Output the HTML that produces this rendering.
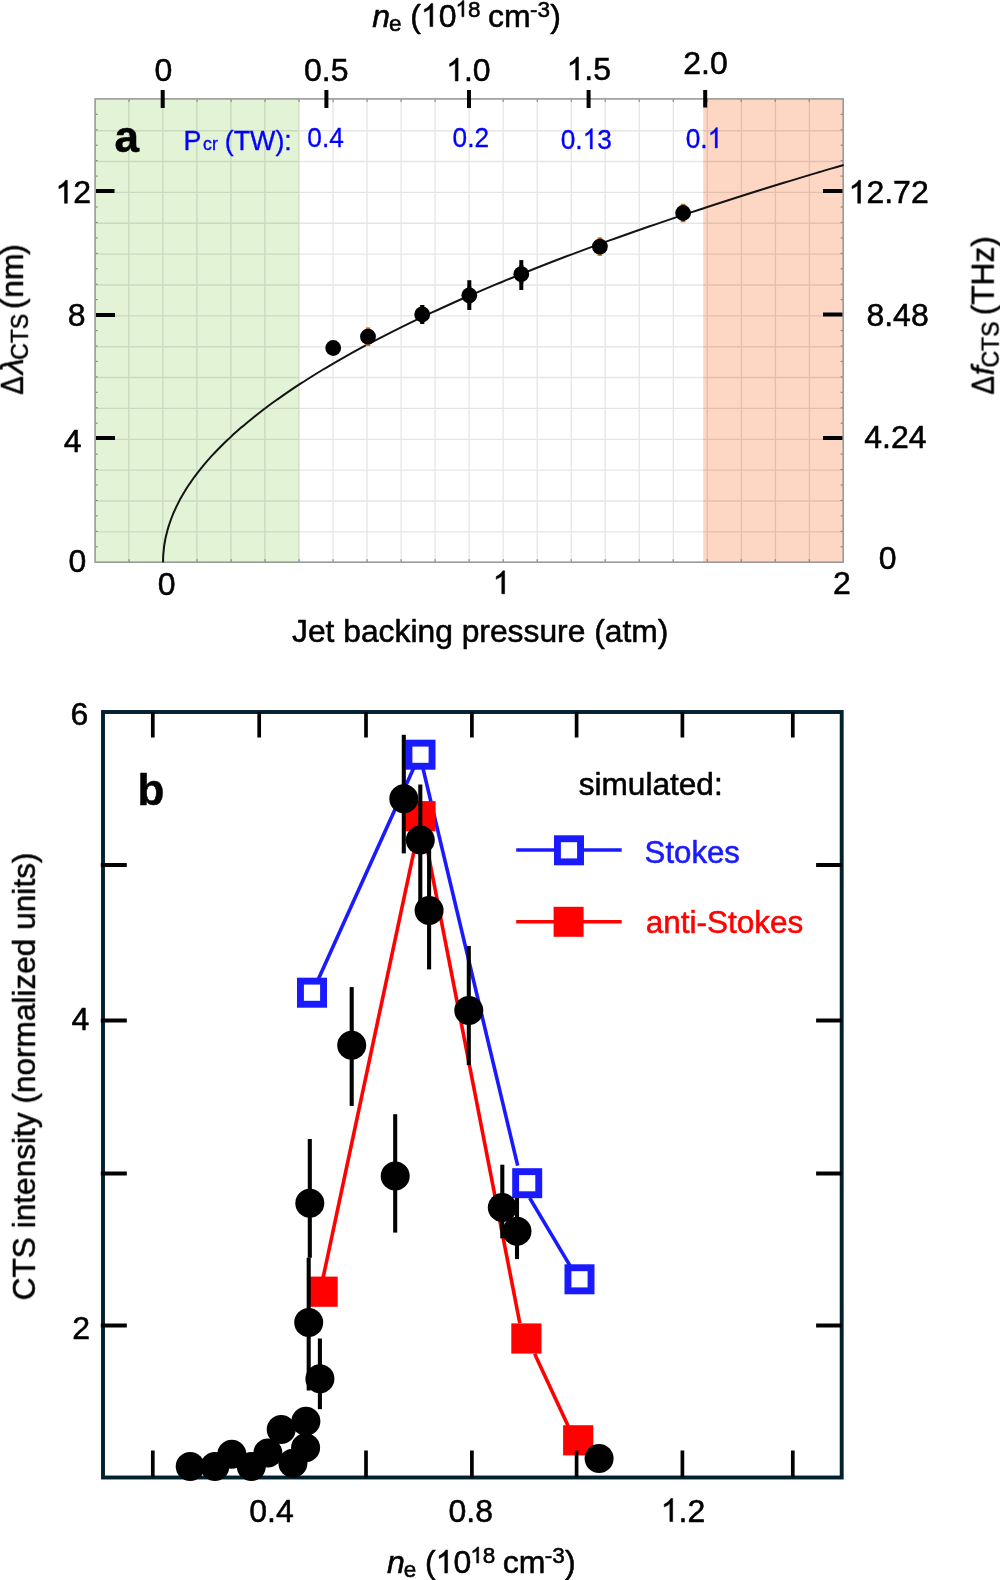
<!DOCTYPE html><html><head><meta charset="utf-8"><title>CTS figure</title>
<style>html,body{margin:0;padding:0;background:#fff}svg{display:block}text{font-family:"Liberation Sans",sans-serif;fill:#000;stroke:#000;stroke-width:.55px;stroke-linejoin:round}</style></head><body>
<svg width="1000" height="1580" viewBox="0 0 1000 1580">
<rect width="1000" height="1580" fill="#fff"/>
<g opacity="0.999">
<rect x="95.1" y="98.9" width="204.2" height="463.3" fill="#e3f3d6"/>
<rect x="703.2" y="98.9" width="140.0" height="463.3" fill="#fed6c4"/>
<path d="M128.8 98.9V562.2M162.8 98.9V562.2M196.9 98.9V562.2M230.9 98.9V562.2M264.9 98.9V562.2M299.0 98.9V562.2M333.0 98.9V562.2M367.0 98.9V562.2M401.1 98.9V562.2M435.1 98.9V562.2M469.1 98.9V562.2M503.1 98.9V562.2M537.2 98.9V562.2M571.2 98.9V562.2M605.2 98.9V562.2M639.3 98.9V562.2M673.3 98.9V562.2M707.3 98.9V562.2M741.4 98.9V562.2M775.4 98.9V562.2M809.4 98.9V562.2M95.1 531.8H843.2M95.1 501.0H843.2M95.1 470.1H843.2M95.1 439.3H843.2M95.1 408.4H843.2M95.1 377.5H843.2M95.1 346.7H843.2M95.1 315.8H843.2M95.1 285.0H843.2M95.1 254.1H843.2M95.1 223.2H843.2M95.1 192.4H843.2M95.1 161.5H843.2M95.1 130.7H843.2" stroke="#000" stroke-opacity="0.105" stroke-width="1.35" fill="none"/>
<path d="M95.1 546.8h2.6M843.2 546.8h-2.6M95.1 531.3h2.6M843.2 531.3h-2.6M95.1 515.9h2.6M843.2 515.9h-2.6M95.1 500.4h2.6M843.2 500.4h-2.6M95.1 485.0h2.6M843.2 485.0h-2.6M95.1 469.5h2.6M843.2 469.5h-2.6M95.1 454.1h2.6M843.2 454.1h-2.6M95.1 438.7h2.6M843.2 438.7h-2.6M95.1 423.2h2.6M843.2 423.2h-2.6M95.1 407.8h2.6M843.2 407.8h-2.6M95.1 392.3h2.6M843.2 392.3h-2.6M95.1 376.9h2.6M843.2 376.9h-2.6M95.1 361.4h2.6M843.2 361.4h-2.6M95.1 346.0h2.6M843.2 346.0h-2.6M95.1 330.6h2.6M843.2 330.6h-2.6M95.1 315.1h2.6M843.2 315.1h-2.6M95.1 299.7h2.6M843.2 299.7h-2.6M95.1 284.2h2.6M843.2 284.2h-2.6M95.1 268.8h2.6M843.2 268.8h-2.6M95.1 253.3h2.6M843.2 253.3h-2.6M95.1 237.9h2.6M843.2 237.9h-2.6M95.1 222.4h2.6M843.2 222.4h-2.6M95.1 207.0h2.6M843.2 207.0h-2.6M95.1 191.6h2.6M843.2 191.6h-2.6M95.1 176.1h2.6M843.2 176.1h-2.6M95.1 160.7h2.6M843.2 160.7h-2.6M95.1 145.2h2.6M843.2 145.2h-2.6M95.1 129.8h2.6M843.2 129.8h-2.6M95.1 114.3h2.6M843.2 114.3h-2.6M129.1 562.2v-3M129.1 98.9v3M163.1 562.2v-3M163.1 98.9v3M197.1 562.2v-3M197.1 98.9v3M231.1 562.2v-3M231.1 98.9v3M265.1 562.2v-3M265.1 98.9v3M299.1 562.2v-3M299.1 98.9v3M333.1 562.2v-3M333.1 98.9v3M367.1 562.2v-3M367.1 98.9v3M401.1 562.2v-3M401.1 98.9v3M435.1 562.2v-3M435.1 98.9v3M469.1 562.2v-3M469.1 98.9v3M503.2 562.2v-3M503.2 98.9v3M537.2 562.2v-3M537.2 98.9v3M571.2 562.2v-3M571.2 98.9v3M605.2 562.2v-3M605.2 98.9v3M639.2 562.2v-3M639.2 98.9v3M673.2 562.2v-3M673.2 98.9v3M707.2 562.2v-3M707.2 98.9v3M741.2 562.2v-3M741.2 98.9v3M775.2 562.2v-3M775.2 98.9v3M809.2 562.2v-3M809.2 98.9v3" stroke="#777" stroke-width="1" fill="none"/>
<rect x="95.1" y="98.9" width="748.1" height="463.3" fill="none" stroke="#9a9a9a" stroke-width="1.6"/>
<polyline points="163.0,562.2 163.1,560.2 163.1,558.2 163.2,556.2 163.3,554.3 163.5,552.3 163.7,550.3 163.9,548.3 164.1,546.3 164.4,544.3 164.8,542.3 165.1,540.4 165.5,538.4 165.9,536.4 166.4,534.4 166.9,532.4 167.4,530.4 168.0,528.4 168.6,526.4 169.2,524.5 169.9,522.5 170.6,520.5 171.3,518.5 172.1,516.5 172.9,514.5 173.7,512.5 174.6,510.6 175.5,508.6 176.4,506.6 177.4,504.6 178.4,502.6 179.4,500.6 180.5,498.6 181.6,496.7 182.7,494.7 183.9,492.7 185.1,490.7 186.3,488.7 187.6,486.7 188.9,484.7 190.3,482.8 191.7,480.8 193.1,478.8 194.5,476.8 196.0,474.8 197.5,472.8 199.1,470.8 200.6,468.9 202.3,466.9 203.9,464.9 205.6,462.9 207.3,460.9 209.1,458.9 210.8,456.9 212.7,454.9 214.5,453.0 216.4,451.0 218.3,449.0 220.3,447.0 222.3,445.0 224.3,443.0 226.4,441.0 228.5,439.1 230.6,437.1 232.7,435.1 234.9,433.1 237.2,431.1 239.4,429.1 241.7,427.1 244.1,425.2 246.4,423.2 248.8,421.2 251.3,419.2 253.7,417.2 256.2,415.2 258.8,413.2 261.3,411.3 263.9,409.3 266.6,407.3 269.2,405.3 271.9,403.3 274.7,401.3 277.5,399.3 280.3,397.4 283.1,395.4 286.0,393.4 288.9,391.4 291.8,389.4 294.8,387.4 297.8,385.4 300.9,383.4 304.0,381.5 307.1,379.5 310.2,377.5 313.4,375.5 316.6,373.5 319.9,371.5 323.1,369.5 326.5,367.6 329.8,365.6 333.2,363.6 336.6,361.6 340.1,359.6 343.6,357.6 347.1,355.6 350.6,353.7 354.2,351.7 357.9,349.7 361.5,347.7 365.2,345.7 368.9,343.7 372.7,341.7 376.5,339.8 380.3,337.8 384.2,335.8 388.1,333.8 392.0,331.8 396.0,329.8 400.0,327.8 404.0,325.9 408.1,323.9 412.2,321.9 416.3,319.9 420.5,317.9 424.7,315.9 428.9,313.9 433.2,311.9 437.5,310.0 441.8,308.0 446.2,306.0 450.6,304.0 455.0,302.0 459.5,300.0 464.0,298.0 468.6,296.1 473.1,294.1 477.8,292.1 482.4,290.1 487.1,288.1 491.8,286.1 496.5,284.1 501.3,282.2 506.1,280.2 511.0,278.2 515.9,276.2 520.8,274.2 525.7,272.2 530.7,270.2 535.7,268.3 540.8,266.3 545.9,264.3 551.0,262.3 556.2,260.3 561.4,258.3 566.6,256.3 571.8,254.4 577.1,252.4 582.5,250.4 587.8,248.4 593.2,246.4 598.6,244.4 604.1,242.4 609.6,240.4 615.1,238.5 620.7,236.5 626.3,234.5 631.9,232.5 637.6,230.5 643.3,228.5 649.0,226.5 654.8,224.6 660.6,222.6 666.4,220.6 672.3,218.6 678.2,216.6 684.1,214.6 690.1,212.6 696.1,210.7 702.2,208.7 708.2,206.7 714.3,204.7 720.5,202.7 726.7,200.7 732.9,198.7 739.1,196.8 745.4,194.8 751.7,192.8 758.0,190.8 764.4,188.8 770.8,186.8 777.3,184.8 783.8,182.8 790.3,180.9 796.8,178.9 803.4,176.9 810.0,174.9 816.7,172.9 823.4,170.9 830.1,168.9 836.9,167.0 843.7,165.0" fill="none" stroke="#141414" stroke-width="2"/>
<path d="M96 191H114.5M96 314.9H115M96 437.9H115M823 191H842.4M823 314.4H842.4M823 437.9H842.4" stroke="#000" stroke-width="4" fill="none"/>
<path d="M162.7 90V108M326.4 90V108M469 90V108M588.6 90V108M705.2 90V107.5" stroke="#000" stroke-width="4" fill="none"/>
<line x1="368" y1="327.4" x2="368" y2="346.0" stroke="#b8741f" stroke-width="4.5"/>
<line x1="422.2" y1="305.09999999999997" x2="422.2" y2="323.7" stroke="#b8741f" stroke-width="4.5"/>
<line x1="469.3" y1="286.0" x2="469.3" y2="304.6" stroke="#b8741f" stroke-width="4.5"/>
<line x1="521.3" y1="264.9" x2="521.3" y2="283.5" stroke="#b8741f" stroke-width="4.5"/>
<line x1="599.9" y1="237.29999999999998" x2="599.9" y2="255.9" stroke="#b8741f" stroke-width="4.5"/>
<line x1="683.1" y1="203.7" x2="683.1" y2="222.3" stroke="#b8741f" stroke-width="4.5"/>
<circle cx="333.2" cy="348" r="7.9" fill="#000"/>
<circle cx="368" cy="336.7" r="7.9" fill="#000"/>
<line x1="422.2" y1="305" x2="422.2" y2="324" stroke="#000" stroke-width="4"/>
<circle cx="422.2" cy="314.4" r="7.9" fill="#000"/>
<line x1="469.3" y1="280.2" x2="469.3" y2="310" stroke="#000" stroke-width="4"/>
<circle cx="469.3" cy="295.3" r="7.9" fill="#000"/>
<line x1="521.3" y1="260.1" x2="521.3" y2="290" stroke="#000" stroke-width="4"/>
<circle cx="521.3" cy="274.2" r="7.9" fill="#000"/>
<circle cx="599.9" cy="246.6" r="7.9" fill="#000"/>
<circle cx="683.1" cy="213" r="7.9" fill="#000"/>
<text y="26.6" font-size="32"><tspan x="372.3" font-style="italic">n</tspan><tspan x="389.0" font-size="22.5" dy="4">e</tspan><tspan dy="-4" x="410.2">(</tspan><tspan x="438.65">0</tspan><tspan x="468.01" font-size="22.5" dy="-9.9">8</tspan><tspan dy="9.9" x="487.9">cm</tspan><tspan x="530.0" font-size="22.5" dy="-9.9">-3</tspan><tspan dy="9.9" x="550.2">)</tspan></text>
<path transform="translate(420.86,26.60) scale(0.01562,-0.01562)" d="M763 0h-180v1147q-65 -62 -170.5 -124t-189.5 -93v174q151 71 264 172t160 196h116v-1472z" fill="#000" stroke="#000" stroke-width="35"/>
<path transform="translate(455.50,16.70) scale(0.01099,-0.01099)" d="M763 0h-180v1147q-65 -62 -170.5 -124t-189.5 -93v174q151 71 264 172t160 196h116v-1472z" fill="#000" stroke="#000" stroke-width="50"/>
<text x="163.3" y="80.5" font-size="32" text-anchor="middle" style="fill:#000;stroke:#000" >0</text>
<text x="326.3" y="80.5" font-size="32" text-anchor="middle" style="fill:#000;stroke:#000" >0.5</text>
<text x="463.95 472.85" y="81" font-size="32" style="fill:#000;stroke:#000" >.0</text>
<path transform="translate(446.16,81.00) scale(0.01562,-0.01562)" d="M763 0h-180v1147q-65 -62 -170.5 -124t-189.5 -93v174q151 71 264 172t160 196h116v-1472z" fill="#000" stroke="#000" stroke-width="35"/>
<text x="584.35 593.25" y="80" font-size="32" style="fill:#000;stroke:#000" >.5</text>
<path transform="translate(566.56,80.00) scale(0.01562,-0.01562)" d="M763 0h-180v1147q-65 -62 -170.5 -124t-189.5 -93v174q151 71 264 172t160 196h116v-1472z" fill="#000" stroke="#000" stroke-width="35"/>
<text x="705.5" y="73.5" font-size="32" text-anchor="middle" style="fill:#000;stroke:#000" >2.0</text>
<text x="73.20" y="203.3" font-size="32" style="fill:#000;stroke:#000" >2</text>
<path transform="translate(55.41,203.30) scale(0.01562,-0.01562)" d="M763 0h-180v1147q-65 -62 -170.5 -124t-189.5 -93v174q151 71 264 172t160 196h116v-1472z" fill="#000" stroke="#000" stroke-width="35"/>
<text x="85.5" y="326.2" font-size="32" text-anchor="end" style="fill:#000;stroke:#000" >8</text>
<text x="81.5" y="452.2" font-size="32" text-anchor="end" style="fill:#000;stroke:#000" >4</text>
<text x="86.2" y="572.2" font-size="32" text-anchor="end" style="fill:#000;stroke:#000" >0</text>
<text x="866.42 884.22 893.11 910.90" y="203.2" font-size="32" style="fill:#000;stroke:#000" >2.72</text>
<path transform="translate(848.62,203.20) scale(0.01562,-0.01562)" d="M763 0h-180v1147q-65 -62 -170.5 -124t-189.5 -93v174q151 71 264 172t160 196h116v-1472z" fill="#000" stroke="#000" stroke-width="35"/>
<text x="928.7" y="325.6" font-size="32" text-anchor="end" style="fill:#000;stroke:#000" >8.48</text>
<text x="926.5" y="448" font-size="32" text-anchor="end" style="fill:#000;stroke:#000" >4.24</text>
<text x="896.5" y="568.7" font-size="32" text-anchor="end" style="fill:#000;stroke:#000" >0</text>
<text x="166.6" y="595" font-size="32" text-anchor="middle" style="fill:#000;stroke:#000" >0</text>
<path transform="translate(492.70,593.80) scale(0.01562,-0.01562)" d="M763 0h-180v1147q-65 -62 -170.5 -124t-189.5 -93v174q151 71 264 172t160 196h116v-1472z" fill="#000" stroke="#000" stroke-width="35"/>
<text x="842" y="593.8" font-size="32" text-anchor="middle" style="fill:#000;stroke:#000" >2</text>
<text x="480.2" y="641.8" font-size="31.8" text-anchor="middle" style="fill:#000;stroke:#000" >Jet backing pressure (atm)</text>
<text x="114.5" y="151.5" font-size="44" text-anchor="start" style="fill:#000;stroke:#000" font-weight="bold">a</text>
<g fill="#0000ff">
<text y="149.7" font-size="26.8" style="fill:#0000ff;stroke:#0000ff;stroke-width:.35px"><tspan x="183.5">P</tspan><tspan x="203" font-size="17.8">cr</tspan><tspan x="224.8">(TW):</tspan></text>
<g transform="translate(325.6,0) scale(0.925,1) translate(-325.6,0)">
<text x="325.6" y="147.5" font-size="28.4" text-anchor="middle" style="fill:#0000ff;stroke:#0000ff;stroke-width:0.35px" >0.4</text>
</g>
<g transform="translate(470.8,0) scale(0.925,1) translate(-470.8,0)">
<text x="470.8" y="147" font-size="28.4" text-anchor="middle" style="fill:#0000ff;stroke:#0000ff;stroke-width:0.35px" >0.2</text>
</g>
<g transform="translate(586.3,0) scale(0.925,1) translate(-586.3,0)">
<text x="558.66 574.46 598.14" y="149" font-size="28.4" style="fill:#0000ff;stroke:#0000ff;stroke-width:0.35px" >0.3</text>
<path transform="translate(582.35,149.00) scale(0.01387,-0.01387)" d="M763 0h-180v1147q-65 -62 -170.5 -124t-189.5 -93v174q151 71 264 172t160 196h116v-1472z" fill="#0000ff" stroke="#0000ff" stroke-width="25"/>
</g>
<g transform="translate(704,0) scale(0.925,1) translate(-704,0)">
<text x="684.26 700.05" y="148" font-size="28.4" style="fill:#0000ff;stroke:#0000ff;stroke-width:0.35px" >0.</text>
<path transform="translate(707.95,148.00) scale(0.01387,-0.01387)" d="M763 0h-180v1147q-65 -62 -170.5 -124t-189.5 -93v174q151 71 264 172t160 196h116v-1472z" fill="#0000ff" stroke="#0000ff" stroke-width="25"/>
</g>
</g>
<g transform="translate(22.9,394.6) rotate(-90)" font-size="32"><text transform="scale(0.86,1)" x="0" y="0">Δ</text><text x="20.5" y="0" font-style="italic">λ</text><text x="34.8" y="5" font-size="23">CTS</text><text x="85.4" y="0">(</text><text x="96.7" y="0">nm</text><text x="139.7" y="0">)</text></g>
<g transform="translate(993.7,394.5) rotate(-90)" font-size="32"><text transform="scale(0.86,1)" x="0" y="0">Δ</text><text x="19.2" y="0" font-style="italic">f</text><text x="27" y="5" font-size="23">CTS</text><text x="79.3" y="0" font-size="31.6">(THz)</text></g>
<line x1="312.2" y1="992.7" x2="419.7" y2="754.7" stroke="#1a1aff" stroke-width="3.6"/>
<line x1="419.7" y1="754.7" x2="517.7" y2="1165.6" stroke="#1a1aff" stroke-width="3.6"/>
<line x1="529.7" y1="1198" x2="574" y2="1272.4" stroke="#1a1aff" stroke-width="3.6"/>
<line x1="320.1" y1="1291.7" x2="421.5" y2="815.8" stroke="#ff0000" stroke-width="3.6"/>
<line x1="420.8" y1="815.8" x2="519.8" y2="1323.2" stroke="#ff0000" stroke-width="3.6"/>
<line x1="534.6" y1="1353.8" x2="572" y2="1434.2" stroke="#ff0000" stroke-width="3.6"/>
<rect x="307.5" y="1276.6" width="30.2" height="30.2" fill="#ff0000"/>
<rect x="405.4" y="801.1" width="30.2" height="30.2" fill="#ff0000"/>
<rect x="511.3" y="1323.4" width="30.2" height="30.2" fill="#ff0000"/>
<rect x="563.1" y="1425.2" width="30.2" height="30.2" fill="#ff0000"/>
<rect x="300.45" y="981.15" width="23.1" height="23.1" fill="#fff" stroke="#1a1aff" stroke-width="6.9"/>
<rect x="408.95" y="743.15" width="23.1" height="23.1" fill="#fff" stroke="#1a1aff" stroke-width="6.9"/>
<rect x="515.65" y="1171.65" width="23.1" height="23.1" fill="#fff" stroke="#1a1aff" stroke-width="6.9"/>
<rect x="567.95" y="1267.75" width="23.1" height="23.1" fill="#fff" stroke="#1a1aff" stroke-width="6.9"/>
<rect x="103" y="712" width="738.7" height="765.5" fill="none" stroke="#02202f" stroke-width="3.9"/>
<path d="M152.8 712V737.6M152.8 1477.5V1450.5M259.2 712V737.6M259.2 1477.5V1450.5M366 712V737.6M366 1477.5V1450.5M471.9 712V737.6M471.9 1477.5V1450.5M576.6 712V737.6M576.6 1477.5V1450.5M682.4 712V737.6M682.4 1477.5V1450.5M792.8 712V737.6M792.8 1477.5V1450.5" stroke="#000" stroke-width="3.7" fill="none"/>
<path d="M100.8 864.9H126.8M816.1 864.9H841.7M100.8 1020.6H126.8M816.1 1020.6H841.7M100.8 1173.5H126.8M816.1 1173.5H841.7M100.8 1325.4H126.8M816.1 1325.4H841.7" stroke="#000" stroke-width="4" fill="none"/>
<line x1="319.9" y1="1338.5" x2="319.9" y2="1409.2" stroke="#000" stroke-width="4.1"/>
<line x1="308.7" y1="1257.8" x2="308.7" y2="1390.5" stroke="#000" stroke-width="4.1"/>
<line x1="309.8" y1="1139" x2="309.8" y2="1257.8" stroke="#000" stroke-width="4.1"/>
<line x1="351.7" y1="987.1" x2="351.7" y2="1105.9" stroke="#000" stroke-width="4.1"/>
<line x1="395.2" y1="1114.2" x2="395.2" y2="1232.6" stroke="#000" stroke-width="4.1"/>
<line x1="403.8" y1="734.8" x2="403.8" y2="853.4" stroke="#000" stroke-width="4.1"/>
<line x1="420.3" y1="784.5" x2="420.3" y2="902" stroke="#000" stroke-width="4.1"/>
<line x1="429.1" y1="844.8" x2="429.1" y2="969.4" stroke="#000" stroke-width="4.1"/>
<line x1="468.8" y1="946" x2="468.8" y2="1065.1" stroke="#000" stroke-width="4.1"/>
<line x1="502.3" y1="1164.7" x2="502.3" y2="1238.3" stroke="#000" stroke-width="4.1"/>
<line x1="517" y1="1198" x2="517" y2="1259.1" stroke="#000" stroke-width="4.1"/>
<circle cx="190.2" cy="1466.4" r="14.5" fill="#000"/>
<circle cx="214.9" cy="1466.4" r="14.5" fill="#000"/>
<circle cx="231.8" cy="1454.2" r="14.5" fill="#000"/>
<circle cx="251.3" cy="1466.4" r="14.5" fill="#000"/>
<circle cx="267.9" cy="1452.9" r="14.5" fill="#000"/>
<circle cx="281.2" cy="1429.5" r="14.5" fill="#000"/>
<circle cx="292.9" cy="1463.3" r="14.5" fill="#000"/>
<circle cx="305.6" cy="1447.7" r="14.5" fill="#000"/>
<circle cx="305.9" cy="1421.2" r="14.5" fill="#000"/>
<circle cx="319.9" cy="1378.8" r="14.5" fill="#000"/>
<circle cx="308.7" cy="1322.4" r="14.5" fill="#000"/>
<circle cx="309.8" cy="1203.2" r="14.5" fill="#000"/>
<circle cx="351.7" cy="1045.3" r="14.5" fill="#000"/>
<circle cx="395.2" cy="1175.9" r="14.5" fill="#000"/>
<circle cx="403.8" cy="798.8" r="14.5" fill="#000"/>
<circle cx="420.3" cy="840.1" r="14.5" fill="#000"/>
<circle cx="429.1" cy="910.6" r="14.5" fill="#000"/>
<circle cx="468.8" cy="1010.5" r="14.5" fill="#000"/>
<circle cx="502.3" cy="1207.6" r="14.5" fill="#000"/>
<circle cx="517" cy="1231.3" r="14.5" fill="#000"/>
<circle cx="599.1" cy="1458.6" r="14.5" fill="#000"/>
<text x="88.3" y="724.8" font-size="32" text-anchor="end" style="fill:#000;stroke:#000" >6</text>
<text x="89.2" y="1029.6" font-size="32" text-anchor="end" style="fill:#000;stroke:#000" >4</text>
<text x="90" y="1339" font-size="32" text-anchor="end" style="fill:#000;stroke:#000" >2</text>
<text x="271.5" y="1522" font-size="32" text-anchor="middle" style="fill:#000;stroke:#000" >0.4</text>
<text x="470.8" y="1521.5" font-size="32" text-anchor="middle" style="fill:#000;stroke:#000" >0.8</text>
<text x="678.55 687.45" y="1521.5" font-size="32" style="fill:#000;stroke:#000" >.2</text>
<path transform="translate(660.76,1521.50) scale(0.01562,-0.01562)" d="M763 0h-180v1147q-65 -62 -170.5 -124t-189.5 -93v174q151 71 264 172t160 196h116v-1472z" fill="#000" stroke="#000" stroke-width="35"/>
<text y="1573" font-size="32"><tspan x="387.1" font-style="italic">n</tspan><tspan x="403.8" font-size="22.5" dy="4">e</tspan><tspan dy="-4" x="425.0">(</tspan><tspan x="453.45">0</tspan><tspan x="482.81" font-size="22.5" dy="-9.9">8</tspan><tspan dy="9.9" x="502.7">cm</tspan><tspan x="544.8" font-size="22.5" dy="-9.9">-3</tspan><tspan dy="9.9" x="565.0">)</tspan></text>
<path transform="translate(435.66,1573.00) scale(0.01562,-0.01562)" d="M763 0h-180v1147q-65 -62 -170.5 -124t-189.5 -93v174q151 71 264 172t160 196h116v-1472z" fill="#000" stroke="#000" stroke-width="35"/>
<path transform="translate(470.30,1563.10) scale(0.01099,-0.01099)" d="M763 0h-180v1147q-65 -62 -170.5 -124t-189.5 -93v174q151 71 264 172t160 196h116v-1472z" fill="#000" stroke="#000" stroke-width="50"/>
<text transform="translate(34.9,1300.3) rotate(-90)" font-size="31.6">CTS intensity (normalized units)</text>
<text x="137.5" y="805" font-size="44" text-anchor="start" style="fill:#000;stroke:#000" font-weight="bold">b</text>
<text x="578.7" y="794.5" font-size="31.6" text-anchor="start" style="fill:#000;stroke:#000" >simulated:</text>
<line x1="516.2" y1="850" x2="621.7" y2="850" stroke="#1a1aff" stroke-width="3.6"/>
<rect x="557.45" y="838.75" width="23.1" height="23.1" fill="#fff" stroke="#1a1aff" stroke-width="6.9"/>
<text x="644.6" y="863" font-size="31.2" style="fill:#1a1aff;stroke:#1a1aff">Stokes</text>
<line x1="516.2" y1="921.8" x2="621.7" y2="921.8" stroke="#ff0000" stroke-width="3.6"/>
<rect x="553.6" y="906.8" width="30" height="30" fill="#ff0000"/>
<text x="645.8" y="933.3" font-size="31.5" style="fill:#ff0000;stroke:#ff0000">anti-Stokes</text>
</g></svg></body></html>
